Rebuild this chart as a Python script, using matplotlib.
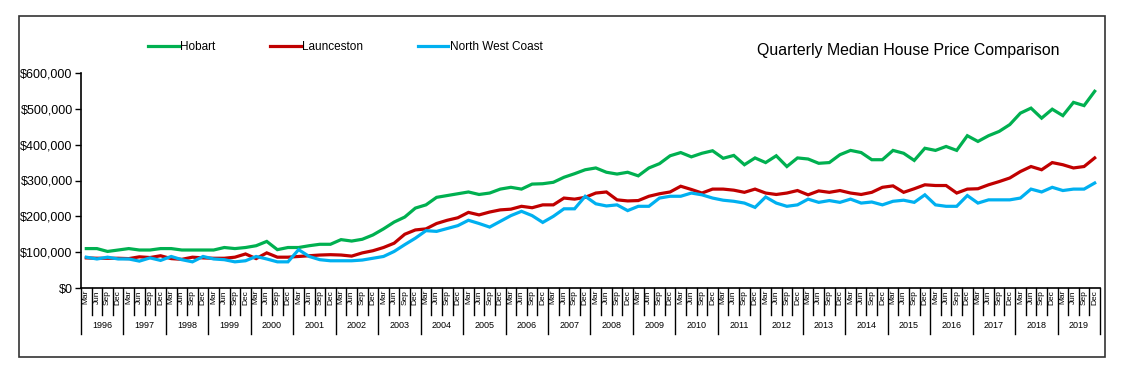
import matplotlib
matplotlib.use("Agg")
import matplotlib.pyplot as plt
from matplotlib.patches import Rectangle
from matplotlib.ticker import FuncFormatter

plt.rcParams['font.family'] = ['Liberation Sans', 'DejaVu Sans']

years = list(range(1996, 2020))
quarters = ["Mar", "Jun", "Sep", "Dec"]

# values in $ thousands
hobart = [
    110, 110, 102, 106,
    110, 106, 106, 110,
    110, 106, 106, 106,
    106, 113, 110, 113,
    118, 130, 107, 113,
    113, 118, 122, 122,
    135, 131, 136, 148,
    165, 184, 198, 223,
    232, 253, 258, 263,
    268, 261, 265, 276,
    281, 276, 290, 291,
    295, 309, 319, 330,
    335, 323, 318, 323,
    313, 335, 347, 369,
    378, 366, 376, 383,
    362, 370, 344, 363,
    350, 369, 339, 363,
    360, 348, 350, 372,
    384, 378, 358, 358,
    384, 376, 356, 390,
    384, 395, 384, 425,
    409, 425, 437, 456,
    488, 502, 474, 499,
    481, 518, 509, 549,
]
launceston = [
    84, 83, 83, 83,
    82, 87, 85, 90,
    82, 80, 86, 84,
    83, 83, 86, 95,
    82, 98, 86, 86,
    88, 90, 92, 93,
    92, 89, 98, 104,
    113, 125, 150, 162,
    165, 180, 189, 196,
    211, 204, 212, 218,
    220, 228, 224, 232,
    232, 251, 248, 253,
    265, 268, 246, 243,
    244, 256, 263, 268,
    284, 275, 265, 276,
    276, 273, 267, 276,
    265, 261, 265, 272,
    260, 271, 267, 272,
    265, 261, 267, 281,
    285, 267, 277, 288,
    286, 286, 265, 276,
    277, 288, 297, 307,
    325, 339, 330, 350,
    344, 335, 339, 363,
]
north_west_coast = [
    86, 81, 86, 81,
    81, 75, 84, 77,
    88, 79, 73, 88,
    81, 79, 73, 76,
    88, 81, 73, 73,
    107, 88, 79, 76,
    76, 76, 78, 83,
    88, 102, 121, 139,
    160, 158, 166, 174,
    189, 180, 170, 186,
    202, 214, 202, 183,
    200, 221, 221, 256,
    235, 229, 232, 216,
    228, 228, 251, 256,
    256, 265, 260, 251,
    245, 242, 237, 225,
    254, 237, 228, 232,
    248, 239, 244, 239,
    248, 237, 240, 232,
    242, 245, 239, 260,
    232, 228, 228, 258,
    237, 246, 246, 246,
    251, 276, 268, 281,
    272, 276, 276, 293,
]

series = [
    ("Hobart", hobart, "#00B050"),
    ("Launceston", launceston, "#C00000"),
    ("North West Coast", north_west_coast, "#00B0F0"),
]

W, H = 1122, 376
fig = plt.figure(figsize=(W / 100, H / 100), dpi=100)
ax = fig.add_axes([81 / W, 1 - 288 / H, (1100 - 81) / W, (288 - 73) / H])

n = len(hobart)
xs = list(range(n))
for name, vals, col in series:
    ax.plot(xs, [v * 1000 for v in vals], color=col, lw=2.3, label=name,
            solid_joinstyle='miter')

ax.set_xlim(-0.5, n - 0.5)
ax.set_ylim(0, 600000)
ax.set_yticks(range(0, 600001, 100000))
ax.yaxis.set_major_formatter(FuncFormatter(lambda v, p: "${:,.0f}".format(v)))
ax.tick_params(axis='y', direction='out', length=4, width=1, labelsize=9, pad=2)
ax.set_xticks([])
for s in ('top', 'right'):
    ax.spines[s].set_visible(False)
ax.spines['left'].set_linewidth(1.2)
ax.spines['bottom'].set_linewidth(1.2)

# multi-level category axis
tr = ax.get_xaxis_transform()
ax_h = 288 - 73
short = -(315 - 288) / ax_h
long_ = -(334 - 288) / ax_h
for i in range(n + 1):
    y2 = long_ if i % 4 == 0 else short
    ax.plot([i - 0.5, i - 0.5], [0, y2], color='black', lw=1.0,
            transform=tr, clip_on=False)
for i in range(n):
    ax.text(i, -2 / ax_h, quarters[i % 4], rotation=90, ha='center', va='top',
            fontsize=6, transform=tr)
for k, yr in enumerate(years):
    ax.text(4 * k + 1.5, -(325 - 288) / ax_h, str(yr), ha='center', va='center',
            fontsize=6.5, transform=tr)

leg = ax.legend(ncol=3, loc='center left', bbox_to_anchor=(148 / W, 1 - 47 / H),
                bbox_transform=fig.transFigure, frameon=False, fontsize=8.5,
                handlelength=2.6, handletextpad=0.15, columnspacing=4.6,
                borderpad=0, borderaxespad=0)

fig.text(908 / W, 1 - 50 / H, "Quarterly Median House Price Comparison",
         ha='center', va='center', fontsize=11.4)

fig.patches.append(Rectangle((19 / W, 1 - 357 / H), (1105 - 19) / W, (357 - 16) / H,
                             transform=fig.transFigure, fill=False,
                             edgecolor='#333333', lw=1.2))

fig.savefig("out.png", dpi=100)
